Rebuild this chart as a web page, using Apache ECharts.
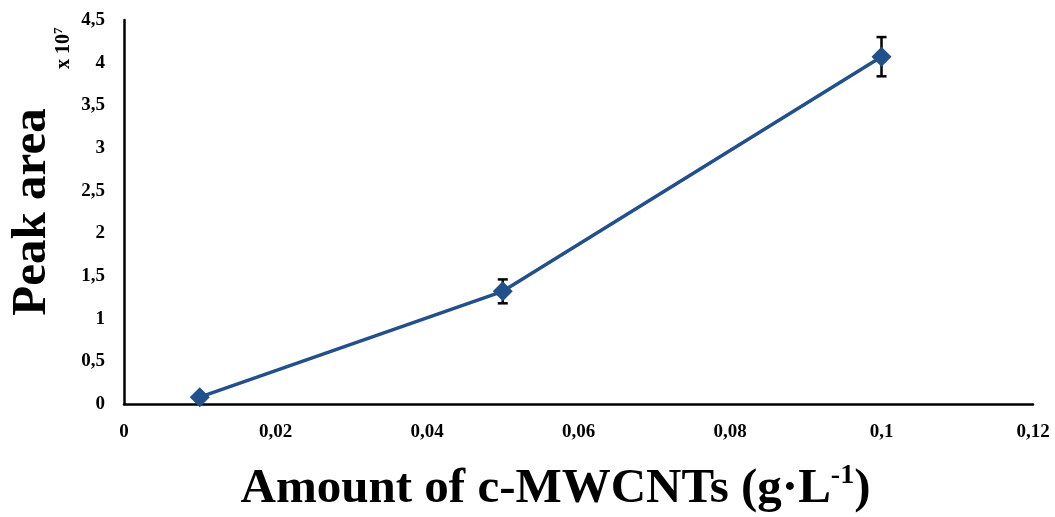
<!DOCTYPE html>
<html>
<head>
<meta charset="utf-8">
<script src="https://cdn.jsdelivr.net/npm/echarts@6/dist/echarts.min.js"></script>
<style>
  html, body { margin: 0; padding: 0; background: #fff; }
  #chart { width: 1055px; height: 517px; }
</style>
</head>
<body>
<div id="chart"></div>
<script>
// Amount of c-MWCNTs (g/L) and measured peak area (x 10^7)
const amounts = [0.01, 0.05, 0.1];
const peakArea = [0.08, 1.32, 4.07];
const peakErr = [0.0, 0.14, 0.23];
const xTicks = [0, 0.02, 0.04, 0.06, 0.08, 0.1, 0.12];
const yTicks = [0, 0.5, 1, 1.5, 2, 2.5, 3, 3.5, 4, 4.5];

const fmt = v => String(v).replace('.', ',');
const serif = '"Liberation Serif", "Times New Roman", serif';
const lineColor = '#22508a';

const chart = echarts.init(document.getElementById('chart'));
chart.setOption({
  animation: false,
  grid: { left: 124, right: 22, top: 20, bottom: 113, containLabel: false, outerBoundsMode: 'none' },
  xAxis: {
    type: 'value',
    min: xTicks[0], max: xTicks[xTicks.length - 1], interval: 0.02,
    axisLine: { show: true, lineStyle: { color: '#000', width: 2.5 } },
    axisTick: { show: false },
    splitLine: { show: false },
    axisLabel: {
      formatter: fmt, margin: 19,
      fontFamily: serif, fontWeight: 'bold', fontSize: 19, color: '#000'
    },
    name: '{t|Amount of c-MWCNTs (g·L}{s|-1}{t|)}',
    nameLocation: 'middle', nameGap: 58,
    nameTextStyle: {
      padding: [0, 46, 0, 0],
      rich: {
        t: { fontFamily: serif, fontWeight: 'bold', fontSize: 49, color: '#000' },
        s: { fontFamily: serif, fontWeight: 'bold', fontSize: 28, color: '#000', verticalAlign: 'top', padding: [0, 0, 26, 0] }
      }
    }
  },
  yAxis: {
    type: 'value',
    min: 0, max: 4.5, interval: 0.5,
    axisLine: { show: true, lineStyle: { color: '#000', width: 2.5 } },
    axisTick: { show: false },
    splitLine: { show: false },
    axisLabel: {
      formatter: fmt, margin: 19,
      fontFamily: serif, fontWeight: 'bold', fontSize: 19, color: '#000'
    },
    name: 'Peak area',
    nameLocation: 'middle', nameRotate: 90, nameGap: 67,
    nameTextStyle: { fontFamily: serif, fontWeight: 'bold', fontSize: 49, color: '#000' }
  },
  graphic: [{
    type: 'text',
    x: 52, y: 69, rotation: Math.PI / 2,
    style: {
      text: '{a|x 10}{b|7}',
      rich: {
        a: { fontFamily: serif, fontWeight: 'bold', fontSize: 20, fill: '#000' },
        b: { fontFamily: serif, fontWeight: 'bold', fontSize: 13, fill: '#000', verticalAlign: 'top', padding: [0, 0, 10, 0] }
      }
    }
  }],
  series: [{
    type: 'line',
    data: amounts.map((x, i) => [x, peakArea[i]]),
    symbol: 'diamond', symbolSize: 20,
    lineStyle: { color: lineColor, width: 3.5 },
    itemStyle: { color: lineColor },
    z: 3
  }, {
    type: 'custom',
    data: amounts.map((x, i) => [x, peakArea[i] - peakErr[i], peakArea[i] + peakErr[i]]),
    renderItem: (params, api) => {
      const lo = api.coord([api.value(0), api.value(1)]);
      const hi = api.coord([api.value(0), api.value(2)]);
      const w = 5;
      const st = { stroke: '#000', lineWidth: 2.5 };
      return {
        type: 'group',
        children: [
          { type: 'line', shape: { x1: lo[0], y1: lo[1], x2: hi[0], y2: hi[1] }, style: st },
          { type: 'line', shape: { x1: lo[0] - w, y1: lo[1], x2: lo[0] + w, y2: lo[1] }, style: st },
          { type: 'line', shape: { x1: hi[0] - w, y1: hi[1], x2: hi[0] + w, y2: hi[1] }, style: st }
        ]
      };
    },
    z: 2
  }]
});
</script>
</body>
</html>
